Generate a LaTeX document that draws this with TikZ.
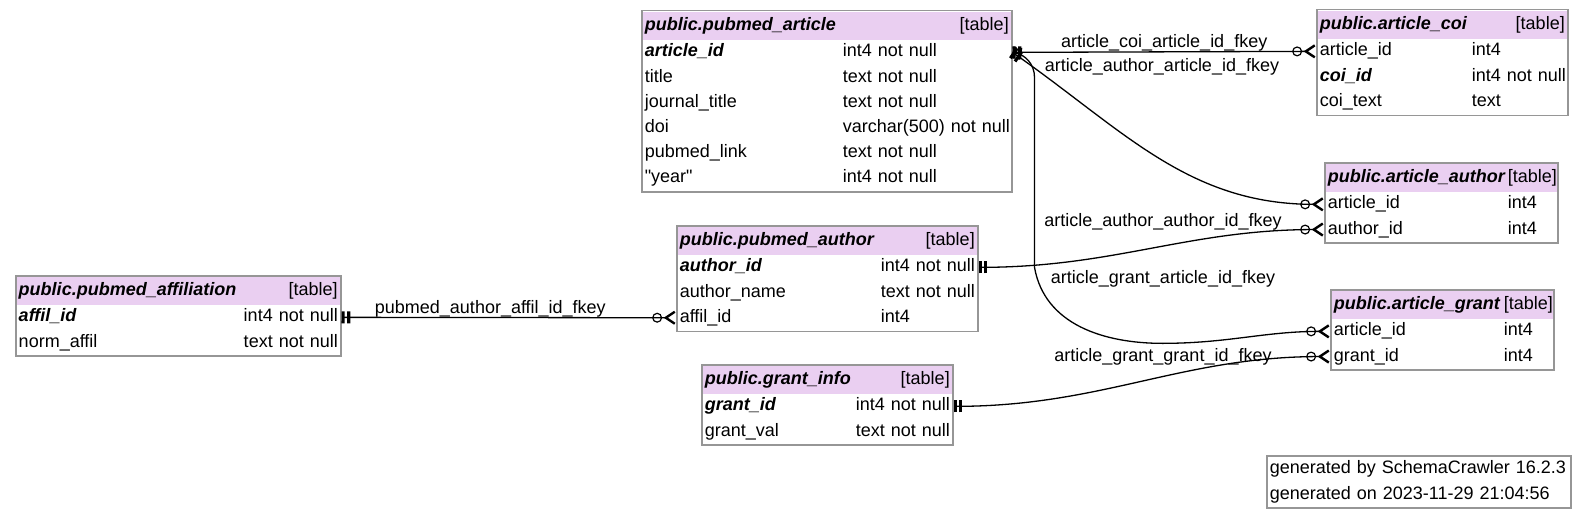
\documentclass[tikz,border=0pt]{standalone}
\usepackage{fontspec}
\newfontfamily\erfont{Liberation Sans}
\usetikzlibrary{matrix, arrows.meta}
\definecolor{boxgray}{RGB}{150,150,150}
\definecolor{headpink}{RGB}{234,207,241}

\begin{document}
\begin{tikzpicture}[x=1pt, y=1pt,
  font=\erfont\fontsize{18pt}{22pt}\selectfont,
  tbl/.style={matrix of nodes, draw=boxgray, line width=1.5pt, inner sep=1pt,
    anchor=north west,
    nodes={inner xsep=2pt, inner ysep=4.1pt, text height=13pt, text depth=4pt,
      align=left, anchor=center,
      execute at begin node={\leavevmode\hbox\bgroup},
      execute at end node={\egroup}},
    row 1/.style={nodes={fill=headpink, inner ysep=5.5pt}}},
  note/.style={tbl, row 1/.style={}},
  cols/.style 2 args={column 1/.style={nodes={text width=#1}},
    column 2/.style={nodes={text width=#2}}},
  tname/.style={font=\erfont\fontsize{18pt}{22pt}\selectfont\bfseries\itshape},
  ttag/.style={align=right},
  pk/.style={tname},
  fk/.style={line width=1.3pt,
    {Bar[width=12pt, line width=3.2pt] Bar[width=12pt, line width=3.2pt, sep=2.5pt]}-{Circle[open, length=10pt, width=10pt, line width=1.2pt, sep=1.5pt] Straight Barb[reversed, length=9pt, width=12pt, line width=2.4pt]}},
  fklabel/.style={inner sep=0pt}]
\useasboundingbox (0,0) rectangle (1585,-519);

% tables
\matrix (pa) [tbl, cols={194pt}{166pt}] at (641,-10) {
  |[tname]| public.pubmed\_article & |[ttag]| {[table]} \\
  |[pk]| article\_id & int4 not null \\
  title & text not null \\
  journal\_title & text not null \\
  doi & varchar(500) not null \\
  pubmed\_link & text not null \\
  "year" & int4 not null \\
};
\matrix (coi) [tbl, cols={148pt}{93pt}] at (1316,-9) {
  |[tname]| public.article\_coi & |[ttag]| {[table]} \\
  article\_id & int4 \\
  |[pk]| coi\_id & int4 not null \\
  coi\_text & text \\
};
\matrix (aa) [tbl, cols={176pt}{47pt}] at (1324,-162) {
  |[tname]| public.article\_author & |[ttag]| {[table]} \\
  article\_id & int4 \\
  author\_id & int4 \\
};
\matrix (ag) [tbl, cols={166pt}{47pt}] at (1330,-289) {
  |[tname]| public.article\_grant & |[ttag]| {[table]} \\
  article\_id & int4 \\
  grant\_id & int4 \\
};
\matrix (pau) [tbl, cols={197pt}{94pt}] at (676,-225) {
  |[tname]| public.pubmed\_author & |[ttag]| {[table]} \\
  |[pk]| author\_id & int4 not null \\
  author\_name & text not null \\
  affil\_id & int4 \\
};
\matrix (gi) [tbl, cols={147pt}{94pt}] at (701,-364) {
  |[tname]| public.grant\_info & |[ttag]| {[table]} \\
  |[pk]| grant\_id & int4 not null \\
  grant\_val & text not null \\
};
\matrix (paf) [tbl, cols={221pt}{94pt}] at (15,-275) {
  |[tname]| public.pubmed\_affiliation & |[ttag]| {[table]} \\
  |[pk]| affil\_id & int4 not null \\
  norm\_affil & text not null \\
};
\matrix (info) [note, column 1/.style={nodes={text width=298pt}}] at (1266,-455) {
  generated by SchemaCrawler 16.2.3 \\
  generated on 2023-11-29 21:04:56 \\
};

% foreign keys
\draw[fk] (pa.east |- pa-2-2) -- node[fklabel, midway, above] (l-coi) {article\_coi\_article\_id\_fkey} (coi.west |- coi-2-1);
\draw[fk] (pa.east |- pa-2-2) to[out=-35, in=180] (aa.west |- aa-2-1);
\draw[fk] (pa.east |- pa-2-2) to[out=-10, in=90] ++(22,-25) -- ++(0,-190)
  to[out=-80, in=180] ++(128,-76) to[out=0, in=180] (ag.west |- ag-2-1);
\draw[fk] (pau.east |- pau-2-2) to[out=0, in=180] (aa.west |- aa-3-1);
\draw[fk] (gi.east |- gi-2-2) to[out=0, in=180] (ag.west |- ag-3-1);
\draw[fk] (paf.east |- paf-2-2) -- node[fklabel, pos=.445, above] (l-affil) {pubmed\_author\_affil\_id\_fkey} (pau.west |- pau-4-1);

% labels placed by the layout
\node[fklabel] (l-aa-art) at (1162,-67) {article\_author\_article\_id\_fkey};
\node[fklabel] (l-aa-auth) at (1163,-222) {article\_author\_author\_id\_fkey};
\node[fklabel] (l-ag-art) at (1163,-279) {article\_grant\_article\_id\_fkey};
\node[fklabel] (l-ag-grant) at (1163,-357) {article\_grant\_grant\_id\_fkey};
\end{tikzpicture}
\end{document}
